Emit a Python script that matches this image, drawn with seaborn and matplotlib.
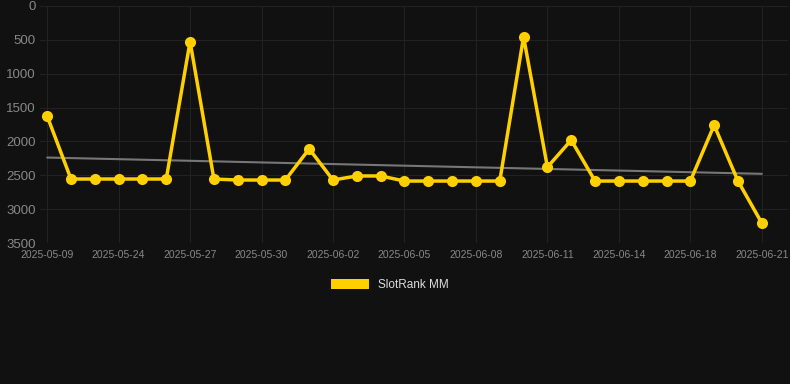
import numpy as np
import pandas as pd
import matplotlib
matplotlib.use("Agg")
import matplotlib.pyplot as plt
import seaborn as sns
from matplotlib.patches import Patch

dates = ["2025-05-09", "2025-05-22", "2025-05-23", "2025-05-24", "2025-05-25", "2025-05-26",
         "2025-05-27", "2025-05-28", "2025-05-29", "2025-05-30", "2025-05-31", "2025-06-01",
         "2025-06-02", "2025-06-03", "2025-06-04", "2025-06-05", "2025-06-06", "2025-06-07",
         "2025-06-08", "2025-06-09", "2025-06-10", "2025-06-11", "2025-06-12", "2025-06-13",
         "2025-06-14", "2025-06-15", "2025-06-16", "2025-06-18", "2025-06-19", "2025-06-20",
         "2025-06-21"]
ranks = [1625, 2555, 2555, 2555, 2555, 2555, 525, 2555, 2570, 2570, 2570, 2110, 2570, 2510,
         2510, 2585, 2585, 2585, 2585, 2585, 455, 2380, 1980, 2585, 2585, 2585, 2585, 2585,
         1760, 2585, 3205]
series_name = "SlotRank MM"

df = pd.DataFrame({"idx": np.arange(len(dates)), "date": dates, "rank": ranks})
coef = np.polyfit(df["idx"], df["rank"], 1)
df["trend"] = np.polyval(coef, df["idx"])

bg = "#111111"
sns.set_theme(style="dark")
plt.rcParams["font.family"] = ["Liberation Sans", "DejaVu Sans"]

fig = plt.figure(figsize=(7.9, 3.84), dpi=100, facecolor=bg)
ax = fig.add_axes([40 / 790, (384 - 243) / 384, 748 / 790, 237 / 384])
ax.set_facecolor(bg)

sns.lineplot(data=df, x="idx", y="trend", ax=ax, color="#777777", linewidth=1.5, zorder=2)
sns.lineplot(data=df, x="idx", y="rank", ax=ax, color="#FFD000", linewidth=2.5,
             marker="o", markersize=8, markeredgewidth=0, zorder=3)

ax.set_ylim(3500, 0)
ax.set_xlim(-0.3, len(dates) - 1 + 1.1)
ax.set_yticks([0, 500, 1000, 1500, 2000, 2500, 3000, 3500])
ticks = list(range(0, len(dates), 3))
ax.set_xticks(ticks)
ax.set_xticklabels([dates[i] for i in ticks])
ax.tick_params(axis="y", colors="#888888", labelsize=9.5, length=0, pad=3)
ax.tick_params(axis="x", colors="#888888", labelsize=7.5, length=0, pad=5)
ax.grid(True, color="#222222", linewidth=0.8)
for s in ax.spines.values():
    s.set_visible(False)
ax.set_xlabel("")
ax.set_ylabel("")

handle = Patch(facecolor="#FFD000", edgecolor="none")
fig.legend([handle], [series_name], loc="center", bbox_to_anchor=(390 / 790, 1 - 285 / 384),
           frameon=False, labelcolor="#dddddd", fontsize=8.5, handlelength=3.2, handleheight=1.0)

fig.savefig("out.png", dpi=100, facecolor=bg)
